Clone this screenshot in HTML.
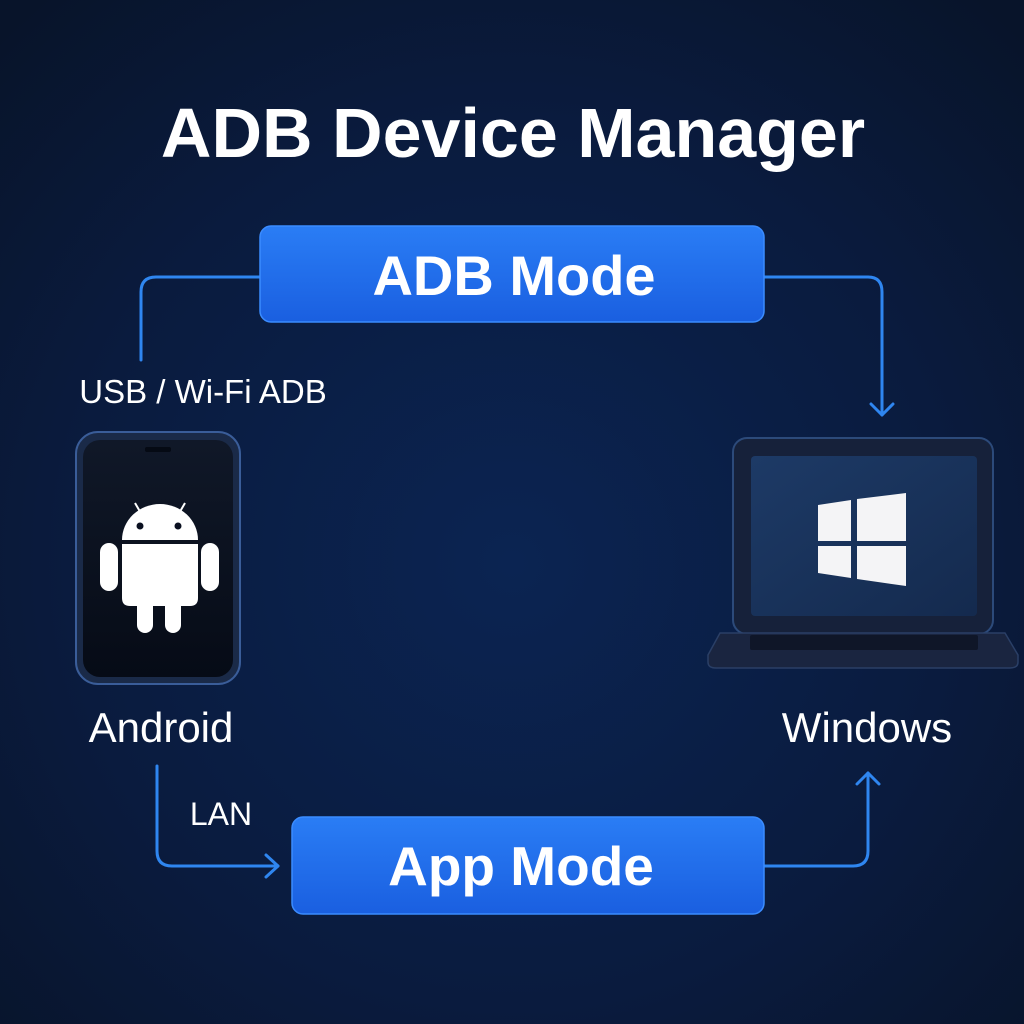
<!DOCTYPE html>
<html><head><meta charset="utf-8"><style>
html,body{margin:0;padding:0;width:1024px;height:1024px;overflow:hidden;background:#0a1a36}
svg{display:block}
text{font-family:"Liberation Sans",sans-serif;fill:#fff}
</style></head><body>
<svg width="1024" height="1024" viewBox="0 0 1024 1024">
<defs>
<radialGradient id="bg" cx="50%" cy="55%" r="72%">
<stop offset="0" stop-color="#0b2452"/><stop offset="0.6" stop-color="#0a1b3e"/><stop offset="1" stop-color="#08142a"/>
</radialGradient>
<linearGradient id="btn" x1="0" y1="0" x2="0" y2="1">
<stop offset="0" stop-color="#2a7df5"/><stop offset="1" stop-color="#1a5fe0"/>
</linearGradient>
<linearGradient id="scr" x1="0" y1="0" x2="1" y2="1">
<stop offset="0" stop-color="#1d3a66"/><stop offset="1" stop-color="#142a4e"/>
</linearGradient>
<linearGradient id="ph" x1="0" y1="0" x2="0" y2="1">
<stop offset="0" stop-color="#101828"/><stop offset="1" stop-color="#060b16"/>
</linearGradient>
</defs>
<rect width="1024" height="1024" fill="url(#bg)"/>
<text x="513" y="157" font-size="70" font-weight="bold" text-anchor="middle">ADB Device Manager</text>

<g fill="none" stroke="#2f86f0" stroke-width="3" stroke-linecap="round" stroke-linejoin="round">
<path d="M260 277 H156 Q141 277 141 292 V360"/>
<path d="M764 277 H868 Q882 277 882 292 V415"/>
<path d="M871 404 L882 415 L893 404"/>
<path d="M157 766 V851 Q157 866 172 866 H278"/>
<path d="M266 855 L278 866 L266 877"/>
<path d="M764 866 H853 Q868 866 868 851 V773"/>
<path d="M857 784 L868 773 L879 784"/>
</g>

<rect x="260" y="226" width="504" height="96" rx="11" fill="url(#btn)" stroke="#3b8cff" stroke-width="1.5"/>
<text x="514" y="295" font-size="56" font-weight="bold" text-anchor="middle">ADB Mode</text>
<rect x="292" y="817" width="472" height="97" rx="11" fill="url(#btn)" stroke="#3b8cff" stroke-width="1.5"/>
<text x="521" y="885" font-size="55" font-weight="bold" text-anchor="middle">App Mode</text>

<text x="203" y="403" font-size="33" text-anchor="middle">USB / Wi-Fi ADB</text>
<text x="221" y="825" font-size="32" text-anchor="middle">LAN</text>
<text x="161" y="742" font-size="42" text-anchor="middle">Android</text>
<text x="867" y="742" font-size="42" text-anchor="middle">Windows</text>

<rect x="76" y="432" width="164" height="252" rx="22" fill="#1a2a48" stroke="#3a5d99" stroke-width="2"/>
<rect x="83" y="440" width="150" height="237" rx="17" fill="url(#ph)"/>
<rect x="145" y="447" width="26" height="5" rx="2" fill="#050a14"/>
<g fill="#fff">
<path d="M122 540 A38 36 0 0 1 198 540 Z"/>
<line x1="135" y1="503" x2="142" y2="515" stroke="#fff" stroke-width="2"/>
<line x1="185" y1="503" x2="178" y2="515" stroke="#fff" stroke-width="2"/>
<path d="M122 544 H198 V598 Q198 606 190 606 H130 Q122 606 122 598 Z"/>
<rect x="100" y="543" width="18" height="48" rx="9"/>
<rect x="201" y="543" width="18" height="48" rx="9"/>
<rect x="137" y="595" width="16" height="38" rx="8"/>
<rect x="165" y="595" width="16" height="38" rx="8"/>
</g>
<circle cx="140" cy="526" r="3.5" fill="#0a1020"/>
<circle cx="178" cy="526" r="3.5" fill="#0a1020"/>

<rect x="733" y="438" width="260" height="196" rx="14" fill="#16213a" stroke="#2c4a7a" stroke-width="2"/>
<rect x="751" y="456" width="226" height="160" rx="4" fill="url(#scr)"/>
<path d="M720 633 H1005 L1018 655 V662 Q1018 668 1010 668 H716 Q708 668 708 662 V655 Z" fill="#1a2540" stroke="#2a3f66" stroke-width="1.5"/>
<rect x="750" y="635" width="228" height="15" rx="2" fill="#0f1628"/>
<g fill="#f4f4f6">
<polygon points="818,505 851,500 851,541 818,541"/>
<polygon points="857,499 906,493 906,541 857,541"/>
<polygon points="818,546 851,546 851,578 818,573"/>
<polygon points="857,546 906,546 906,586 857,579"/>
</g>
</svg>
</body></html>
